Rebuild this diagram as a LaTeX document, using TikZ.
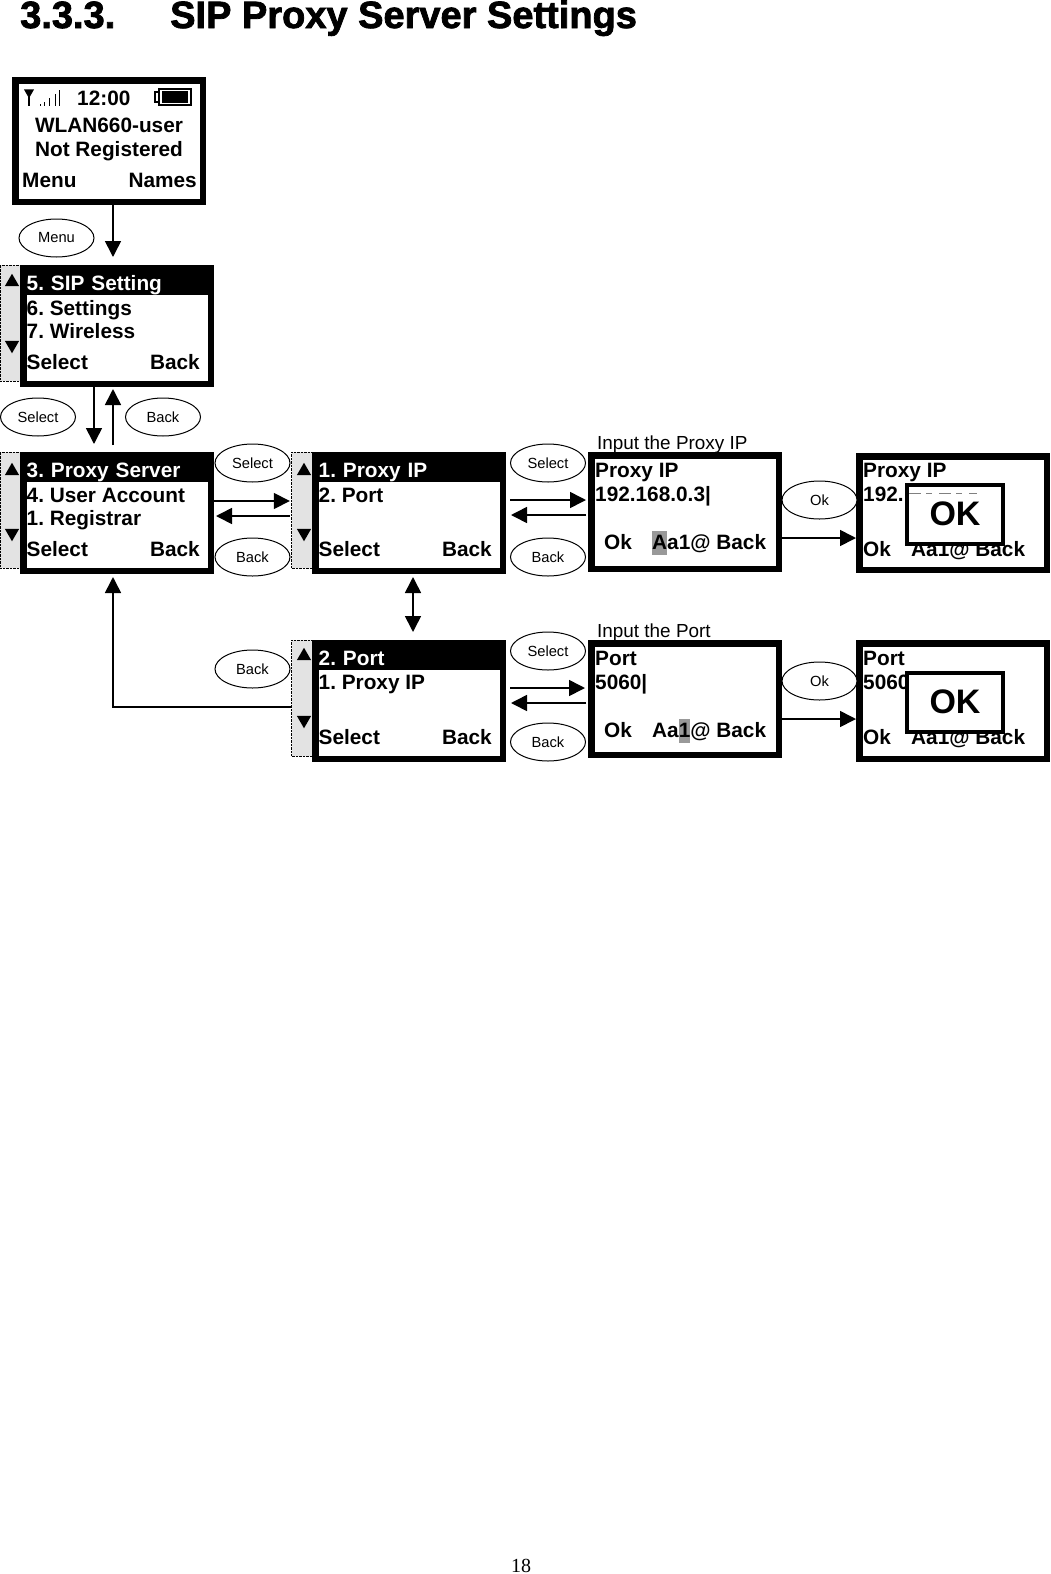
\documentclass[tikz,border=0pt]{standalone}
\usepackage{fontspec}
\setmainfont{Liberation Sans}
\newfontfamily\pagefont{Liberation Serif}
\newfontfamily\headfont[FakeBold=2]{Liberation Sans Bold}
\usepackage{xcolor}
\usetikzlibrary{positioning, shapes.geometric, arrows.meta}

\definecolor{barcolor}{gray}{0.89}
\definecolor{markcolor}{gray}{0.6}
\newcommand{\markchar}[1]{{\setlength{\fboxsep}{0pt}\colorbox{markcolor}{\rule[-6pt]{0pt}{24pt}#1}}}

\tikzset{
  screen/.style={draw, line width=6.5pt, fill=white, rectangle, minimum width=187.5pt, minimum height=115.5pt, inner sep=0pt},
  scrollbar/.style={draw, densely dotted, fill=barcolor, rectangle, minimum width=20pt, minimum height=116pt, inner sep=0pt},
  lcdtext/.style={font=\fontsize{20.8}{21}\selectfont\bfseries\frenchspacing, anchor=base west, inner sep=0pt},
  lcdright/.style={lcdtext, anchor=base east},
  lcdmid/.style={lcdtext, anchor=base},
  headbar/.style={lcdtext, anchor=north west, fill=black, text=white, text width=183pt, text height=19pt, text depth=5pt, inner xsep=.5pt, inner ysep=0pt},
  softkey/.style={draw, line width=1pt, ellipse, fill=white, minimum width=75pt, minimum height=38pt, inner sep=0pt, font=\fontsize{14.7}{15}\selectfont},
  uparrow/.style={regular polygon, regular polygon sides=3, fill=black, minimum size=16.5pt, inner sep=0pt},
  downarrow/.style={uparrow, shape border rotate=180},
  okbox/.style={draw, line width=4pt, fill=white, rectangle, minimum width=96pt, minimum height=59pt, inner sep=0pt, font=\fontsize{34}{35}\selectfont\bfseries},
  caption/.style={font=\fontsize{18.9}{20}\selectfont, anchor=base west, inner sep=0pt},
  link/.style={line width=1.6pt, ->}
}

\begin{document}
\begin{tikzpicture}[x=1pt, y=-1pt, >={Triangle[length=16pt, width=16pt]}]
  \useasboundingbox (0,0) rectangle (1050,1574);

  % heading
  \node (headnumber) [font=\headfont\fontsize{38}{38}\selectfont, anchor=base west, inner sep=0pt] at (20,28) {3.3.3.};
  \node (headtitle) [font=\headfont\fontsize{38}{38}\selectfont, anchor=base west, inner sep=0pt] at (170,28) {SIP Proxy Server Settings};

  % screens
  \node (home) [screen, minimum height=121.5pt] at (109,141) {};
  \node (sipbar) [scrollbar] at (10,323) {};
  \node (sipmenu) [screen] at (117,326) {};
  \node (proxybar) [scrollbar] at (10,510) {};
  \node (proxymenu) [screen] at (117,513) {};
  \node (ipbar) [scrollbar, minimum width=21pt] at (302,510) {};
  \node (ipmenu) [screen, right=98pt of proxymenu] {};
  \node (ipinput) [screen, minimum height=113.5pt, right=82pt of ipmenu, yshift=1pt] {};
  \node (ipdone) [screen, minimum height=113.5pt, right=74pt of ipinput, yshift=-1pt] {};
  \node (portbar) [scrollbar, minimum width=21pt] at (302,698) {};
  \node (portmenu) [screen, below=66pt of ipmenu] {};
  \node (portinput) [screen, minimum height=111.5pt, right=82pt of portmenu, yshift=2pt] {};
  \node (portdone) [screen, right=74pt of portinput, yshift=-2pt] {};

  % home screen
  \node (clock) [lcdtext] at (77,105) {12:00};
  \node (username) [lcdmid] at (109,132) {WLAN660-user};
  \node (regstate) [lcdmid] at (109,156) {Not Registered};
  \node (homeleft) [lcdtext] at (22,187) {Menu};
  \node (homeright) [lcdright] at (197,187) {Names};
  % signal and battery
  \draw [line width=1.8pt] (29,96) -- (29,106);
  \draw [line width=1.2pt, fill=black] (25,90) -- (33,90) -- (29,97) -- cycle;
  \foreach \xpos/\ytop in {40/104, 44/102, 49/98, 55/94, 59/90}
    \draw [line width=1pt] (\xpos,\ytop) -- (\xpos,106);
  \draw [line width=1.2pt] (159,89) rectangle (191,105);
  \fill (162,91) rectangle (188,103);
  \draw [line width=1.2pt] (155,92) rectangle (159,102);

  % menu lists
  \node (sipfirst) [headbar] at (26,271) {5. SIP Setting};
  \node (sipsecond) [lcdtext] at (26.5,315) {6. Settings};
  \node (sipthird) [lcdtext] at (26.5,338) {7. Wireless};
  \node (sipleft) [lcdtext] at (26.5,369) {Select};
  \node (sipright) [lcdright] at (200,369) {Back};

  \node (proxyfirst) [headbar] at (26,458) {3. Proxy Server};
  \node (proxysecond) [lcdtext] at (26.5,502) {4. User Account};
  \node (proxythird) [lcdtext] at (26.5,525) {1. Registrar};
  \node (proxyleft) [lcdtext] at (26.5,556) {Select};
  \node (proxyright) [lcdright] at (200,556) {Back};

  \node (ipfirst) [headbar] at (318,458) {1. Proxy IP};
  \node (ipsecond) [lcdtext] at (318.5,502) {2. Port};
  \node (ipleft) [lcdtext] at (318.5,556) {Select};
  \node (ipright) [lcdright] at (492,556) {Back};

  \node (portfirst) [headbar] at (318,646) {2. Port};
  \node (portsecond) [lcdtext] at (318.5,689) {1. Proxy IP};
  \node (portleft) [lcdtext] at (318.5,744) {Select};
  \node (portright) [lcdright] at (492,744) {Back};

  % scroll marks
  \foreach \barname/\xpos/\ytop/\ybot in {a/12/282/345, b/12/471/533, c/304/471/533, d/304/656/720} {
    \node (up\barname) [uparrow] at (\xpos,\ytop) {};
    \node (down\barname) [downarrow] at (\xpos,\ybot) {};
  }

  % input screens
  \node (ipcaption) [caption] at (597,449) {Input the Proxy IP};
  \node (ipname) [lcdtext] at (595,477) {Proxy IP};
  \node (ipvalue) [lcdtext] at (595,501) {192.168.0.3|};
  \node (ipok) [lcdtext] at (604,549) {Ok};
  \node (ipmode) [lcdtext] at (652,549) {\markchar{A}a1@ Back};

  \node (portcaption) [caption] at (597,637) {Input the Port};
  \node (portname) [lcdtext] at (595,665) {Port};
  \node (portvalue) [lcdtext] at (595,689) {5060|};
  \node (portok) [lcdtext] at (604,737) {Ok};
  \node (portmode) [lcdtext] at (652,737) {Aa\markchar{1}@ Back};

  % confirmed screens
  \node (donename) [lcdtext] at (863,477) {Proxy IP};
  \node (donevalue) [lcdtext] at (863,501) {192.};
  \node (doneok) [lcdtext] at (863,556) {Ok};
  \node (donemode) [lcdtext] at (911,556) {Aa1@ Back};
  \node (okip) [okbox] at (955,514) {OK};
  \draw [gray, dash pattern=on 12pt off 5pt on 6pt off 7pt, line width=.5pt] ([shift={(4,11)}]okip.north west) -- ([shift={(72,11)}]okip.north west);

  \node (portdonename) [lcdtext] at (863,665) {Port};
  \node (portdonevalue) [lcdtext] at (863,689) {5060};
  \node (portdoneok) [lcdtext] at (863,744) {Ok};
  \node (portdonemode) [lcdtext] at (911,744) {Aa1@ Back};
  \node (okport) [okbox] at (955,702) {OK};

  % soft keys
  \node (keymenu) [softkey] at (56.5,238) {Menu};
  \node (keyselect) [softkey] at (38,417) {Select};
  \node (keyback) [softkey] at (163,417) {Back};
  \node (keyselecttwo) [softkey] at (252.5,463) {Select};
  \node (keybacktwo) [softkey] at (252.5,557) {Back};
  \node (keyselectthree) [softkey] at (548,463) {Select};
  \node (keybackthree) [softkey] at (548,557) {Back};
  \node (keyok) [softkey] at (819.5,500) {Ok};
  \node (keybackfour) [softkey] at (252.5,669) {Back};
  \node (keyselectfour) [softkey] at (548,651) {Select};
  \node (keybackfive) [softkey] at (548,742) {Back};
  \node (keyoktwo) [softkey] at (819.5,681) {Ok};

  % connectors
  \draw [link] ([xshift=4pt]home.south) -- ([xshift=-4pt, yshift=8pt]sipmenu.north);
  \draw [link] ([xshift=-23pt]sipmenu.south) -- ([xshift=-23pt, yshift=8pt]proxymenu.north);
  \draw [link] ([xshift=-4pt, yshift=7pt]proxymenu.north) -- ([xshift=-4pt, yshift=-2pt]sipmenu.south);
  \draw [link] ([yshift=12pt]proxymenu.east) -- ([xshift=-1.5pt, yshift=9pt]ipbar.west);
  \draw [link] ([xshift=-1.5pt, yshift=-6pt]ipbar.west) -- ([xshift=2pt, yshift=-3pt]proxymenu.east);
  \draw [link] ([xshift=4pt, yshift=13pt]ipmenu.east) -- ([xshift=-2pt, yshift=12pt]ipinput.west);
  \draw [link] ([xshift=-2pt, yshift=-3pt]ipinput.west) -- ([xshift=5pt, yshift=-2pt]ipmenu.east);
  \draw [link] ([yshift=-26pt]ipinput.east) -- ([yshift=-25pt]ipdone.west);
  \draw [link, <->] ([xshift=4pt, yshift=-3pt]ipmenu.south) -- ([xshift=4pt, yshift=8pt]portmenu.north);
  \draw [link] ([yshift=-9pt]portbar.west) -| ([xshift=-4pt, yshift=-3pt]proxymenu.south);
  \draw [link] ([xshift=4pt, yshift=13pt]portmenu.east) -- ([xshift=-3pt, yshift=11pt]portinput.west);
  \draw [link] ([xshift=-2pt, yshift=-4pt]portinput.west) -- ([xshift=5pt, yshift=-2pt]portmenu.east);
  \draw [link] ([yshift=-20pt]portinput.east) -- ([yshift=-18pt]portdone.west);

  % page number
  \node (pagenumber) [font=\pagefont\fontsize{20}{20}\selectfont, anchor=base, inner sep=0pt] at (521,1572) {18};
\end{tikzpicture}
\end{document}
